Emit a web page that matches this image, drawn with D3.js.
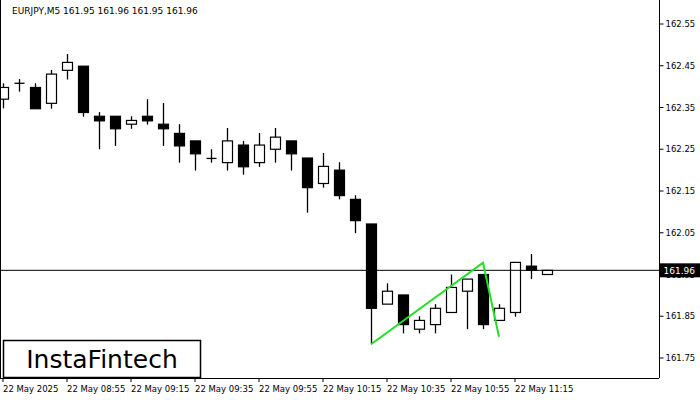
<!DOCTYPE html>
<html><head><meta charset="utf-8">
<script src="https://cdn.jsdelivr.net/npm/d3@7"></script>
<style>body{margin:0;background:#fff}text{font-family:"DejaVu Sans",sans-serif}</style>
</head><body><svg id="chart" width="700" height="400"></svg>
<script>
// OHLC per 5-minute candle, starting 22 May 08:35
var opens  = [162.370,162.408,162.398,162.360,162.439,162.449,162.329,162.329,162.310,162.329,162.310,162.288,162.270,162.228,162.218,162.260,162.218,162.250,162.270,162.229,162.168,162.200,162.130,162.071,161.879,161.901,161.819,161.830,161.859,161.910,161.950,161.840,161.859,161.970,161.950];
var highs  = [162.408,162.418,162.408,162.440,162.478,162.449,162.339,162.329,162.329,162.370,162.361,162.310,162.270,162.250,162.301,162.270,162.289,162.301,162.270,162.229,162.241,162.219,162.140,162.071,161.929,161.901,161.850,161.879,161.950,161.939,161.950,161.879,161.979,161.999,161.960];
var lows   = [162.348,162.388,162.347,162.347,162.417,162.328,162.250,162.258,162.299,162.309,162.258,162.218,162.199,162.218,162.199,162.189,162.208,162.218,162.199,162.098,162.158,162.130,162.049,161.783,161.879,161.809,161.809,161.809,161.859,161.819,161.819,161.840,161.849,161.939,161.950];
var closes = [162.398,162.408,162.347,162.430,162.458,162.338,162.318,162.299,162.319,162.318,162.299,162.258,162.239,162.228,162.270,162.208,162.260,162.279,162.239,162.158,162.209,162.139,162.079,161.869,161.910,161.830,161.840,161.869,161.919,161.939,161.830,161.869,161.979,161.960,161.960];
var patternIdx = [23, 30, 31];
var patternPrices = [161.783, 161.978, 161.801];
var priceTicks = [162.55,162.45,162.35,162.25,162.15,162.05,161.95,161.85,161.75];
var timeLabels = ['22 May 2025','22 May 08:55','22 May 09:15','22 May 09:35','22 May 09:55','22 May 10:15','22 May 10:35','22 May 10:55','22 May 11:15'];
var lastPrice = 161.96;

var svg = d3.select('#chart');
var plotRight = 659, plotBottom = 378;
var x = d3.scaleLinear().domain([0, 1]).range([3, 19]);
var y = d3.scaleLinear().domain([161.75, 162.55]).range([358, 24]);

svg.append('text').attr('x', 12).attr('y', 14).attr('font-size', 9).text('EURJPY,M5  161.95 161.96 161.95 161.96');

var g = svg.append('g');
opens.forEach(function (o, i) {
    var c = closes[i], cx = Math.round(x(i)) + 0.5;
    g.append('line').attr('x1', cx).attr('x2', cx).attr('y1', y(highs[i])).attr('y2', y(lows[i]))
        .attr('stroke', '#000').attr('stroke-width', 1.3);
    var top = y(Math.max(o, c)), h = Math.max(1, y(Math.min(o, c)) - top);
    if (Math.abs(o - c) < 0.002) {
        g.append('line').attr('x1', cx - 5).attr('x2', cx + 5).attr('y1', top).attr('y2', top)
            .attr('stroke', '#000').attr('stroke-width', 1.3);
    } else {
        g.append('rect').attr('x', cx - 5).attr('y', top).attr('width', 10).attr('height', h)
            .attr('fill', c > o ? '#fff' : '#000').attr('stroke', '#000').attr('stroke-width', 1.2);
    }
});

svg.append('line').attr('x1', 0).attr('x2', plotRight).attr('y1', y(lastPrice)).attr('y2', y(lastPrice))
    .attr('stroke', '#000').attr('stroke-width', 1);

var line = d3.line().x(function (d) { return x(d[0]); }).y(function (d) { return y(d[1]); });
svg.append('path').attr('d', line(patternIdx.map(function (d, i) { return [d, patternPrices[i]]; })))
    .attr('fill', 'none').attr('stroke', '#22e022').attr('stroke-width', 2);

// frame
svg.append('line').attr('x1', plotRight + 0.5).attr('x2', plotRight + 0.5).attr('y1', 0).attr('y2', plotBottom).attr('stroke', '#000');
svg.append('line').attr('x1', 0).attr('x2', plotRight).attr('y1', plotBottom + 0.5).attr('y2', plotBottom + 0.5).attr('stroke', '#000');
svg.append('line').attr('x1', 0.5).attr('x2', 0.5).attr('y1', 0).attr('y2', plotBottom).attr('stroke', '#000');

var yAxis = svg.append('g').attr('transform', 'translate(' + (plotRight + 0.5) + ',0)');
priceTicks.forEach(function (p) {
    yAxis.append('line').attr('x1', 0).attr('x2', 4).attr('y1', y(p)).attr('y2', y(p)).attr('stroke', '#000');
    yAxis.append('text').attr('x', 6).attr('y', y(p) + 3).attr('font-size', 8.5).text(p.toFixed(2));
});
yAxis.append('rect').attr('x', 0).attr('y', y(lastPrice) - 7).attr('width', 41).attr('height', 14).attr('fill', '#000');
yAxis.append('text').attr('x', 4).attr('y', y(lastPrice) + 3.5).attr('font-size', 9).attr('fill', '#fff').text(lastPrice.toFixed(2));

timeLabels.forEach(function (t, i) {
    var tx = x(i * 4);
    svg.append('line').attr('x1', tx).attr('x2', tx).attr('y1', plotBottom).attr('y2', plotBottom + 4).attr('stroke', '#000');
    svg.append('text').attr('x', tx).attr('y', 392).attr('font-size', 8.5).text(t);
});

svg.append('rect').attr('x', 3.5).attr('y', 340.5).attr('width', 197).attr('height', 37).attr('fill', '#fff').attr('stroke', '#000').attr('stroke-width', 1.5);
svg.append('text').attr('x', 102).attr('y', 368).attr('text-anchor', 'middle').attr('font-size', 25)
    .attr('font-family', 'Roboto, sans-serif').text('InstaFintech');
</script></body></html>
